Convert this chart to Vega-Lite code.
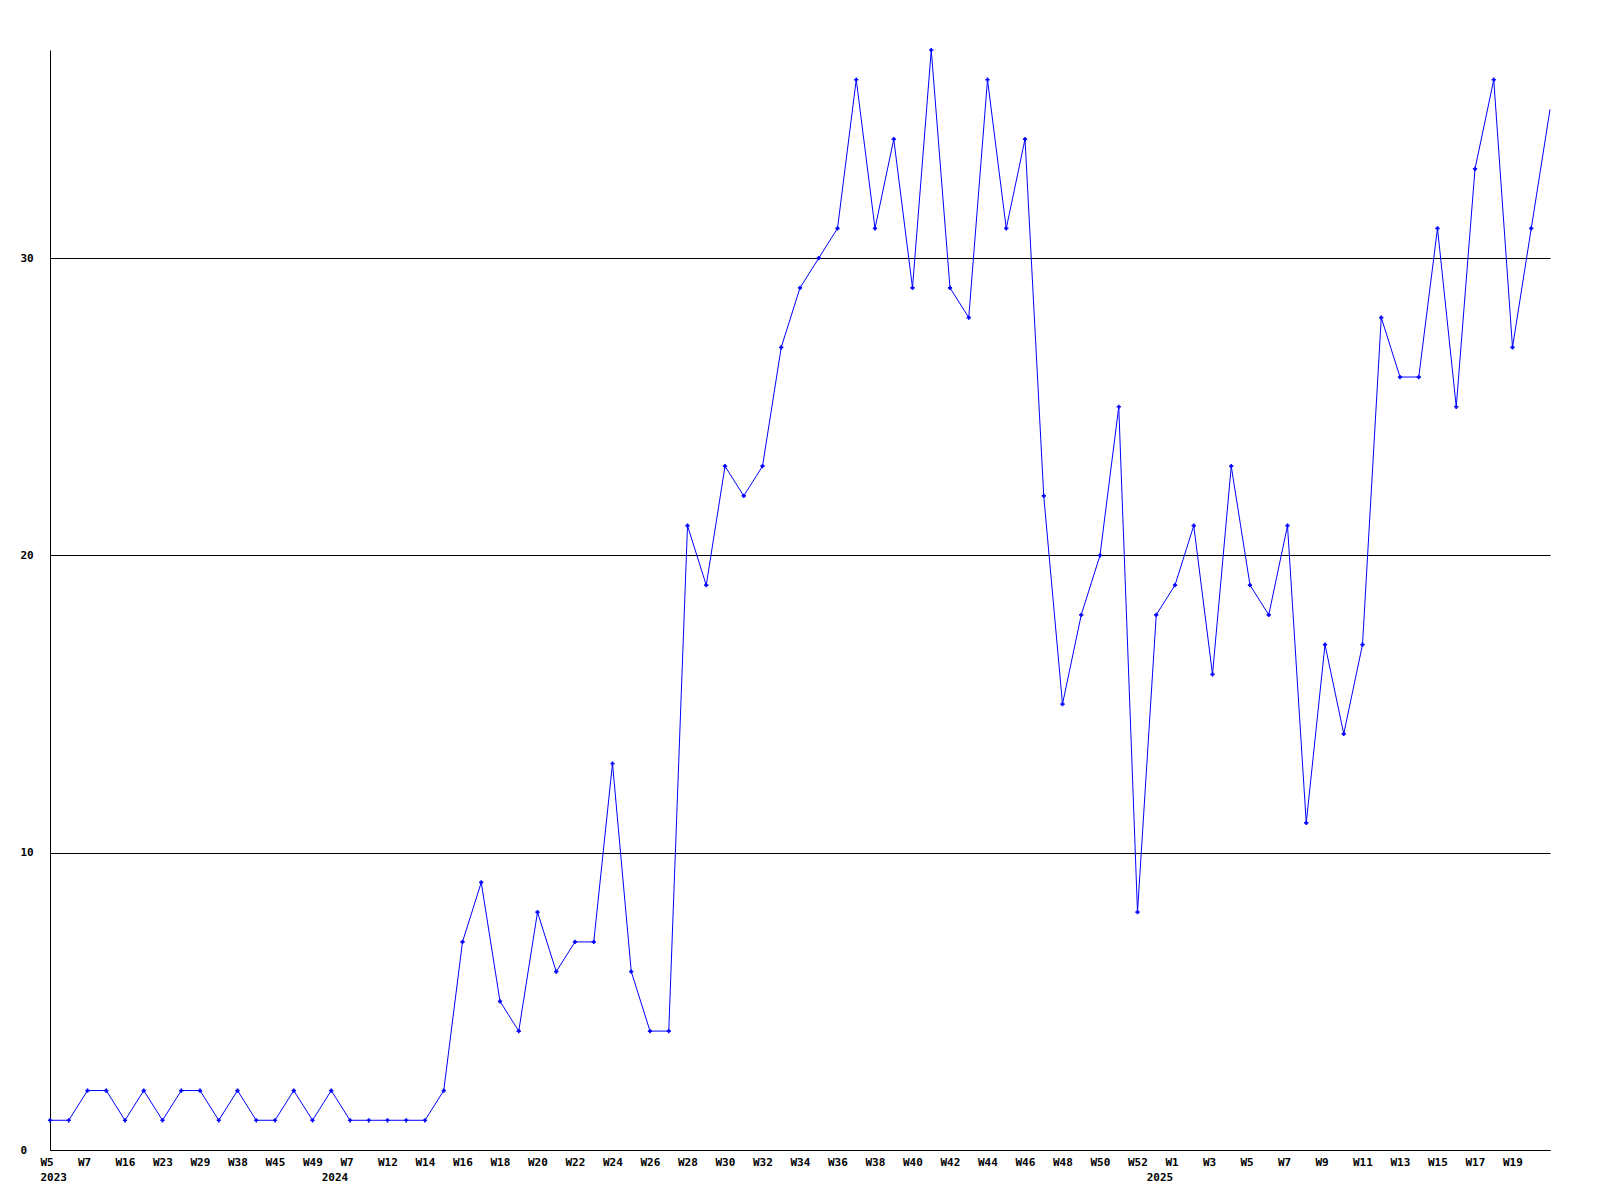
{
  "$schema": "https://vega.github.io/schema/vega-lite/v6.json",
  "width": 1500,
  "height": 1100,
  "autosize": {"type": "none"},
  "padding": {"left": 50, "top": 50, "right": 50, "bottom": 50},
  "background": "white",
  "config": {
    "view": {"stroke": null},
    "axis": {
      "labelFont": "DejaVu Sans Mono",
      "labelFontSize": 11,
      "labelFontWeight": "bold",
      "labelColor": "black",
      "domainColor": "black",
      "domainWidth": 1,
      "ticks": false,
      "title": null
    }
  },
  "data": {
    "values": [
      {"week": "2023-W05", "value": 1},
      {"week": "2023-W06", "value": 1},
      {"week": "2023-W07", "value": 2},
      {"week": "2023-W11", "value": 2},
      {"week": "2023-W16", "value": 1},
      {"week": "2023-W19", "value": 2},
      {"week": "2023-W23", "value": 1},
      {"week": "2023-W26", "value": 2},
      {"week": "2023-W29", "value": 2},
      {"week": "2023-W33", "value": 1},
      {"week": "2023-W38", "value": 2},
      {"week": "2023-W41", "value": 1},
      {"week": "2023-W45", "value": 1},
      {"week": "2023-W47", "value": 2},
      {"week": "2023-W49", "value": 1},
      {"week": "2024-W02", "value": 2},
      {"week": "2024-W07", "value": 1},
      {"week": "2024-W09", "value": 1},
      {"week": "2024-W12", "value": 1},
      {"week": "2024-W13", "value": 1},
      {"week": "2024-W14", "value": 1},
      {"week": "2024-W15", "value": 2},
      {"week": "2024-W16", "value": 7},
      {"week": "2024-W17", "value": 9},
      {"week": "2024-W18", "value": 5},
      {"week": "2024-W19", "value": 4},
      {"week": "2024-W20", "value": 8},
      {"week": "2024-W21", "value": 6},
      {"week": "2024-W22", "value": 7},
      {"week": "2024-W23", "value": 7},
      {"week": "2024-W24", "value": 13},
      {"week": "2024-W25", "value": 6},
      {"week": "2024-W26", "value": 4},
      {"week": "2024-W27", "value": 4},
      {"week": "2024-W28", "value": 21},
      {"week": "2024-W29", "value": 19},
      {"week": "2024-W30", "value": 23},
      {"week": "2024-W31", "value": 22},
      {"week": "2024-W32", "value": 23},
      {"week": "2024-W33", "value": 27},
      {"week": "2024-W34", "value": 29},
      {"week": "2024-W35", "value": 30},
      {"week": "2024-W36", "value": 31},
      {"week": "2024-W37", "value": 36},
      {"week": "2024-W38", "value": 31},
      {"week": "2024-W39", "value": 34},
      {"week": "2024-W40", "value": 29},
      {"week": "2024-W41", "value": 37},
      {"week": "2024-W42", "value": 29},
      {"week": "2024-W43", "value": 28},
      {"week": "2024-W44", "value": 36},
      {"week": "2024-W45", "value": 31},
      {"week": "2024-W46", "value": 34},
      {"week": "2024-W47", "value": 22},
      {"week": "2024-W48", "value": 15},
      {"week": "2024-W49", "value": 18},
      {"week": "2024-W50", "value": 20},
      {"week": "2024-W51", "value": 25},
      {"week": "2024-W52", "value": 8},
      {"week": "2025-W00", "value": 18},
      {"week": "2025-W01", "value": 19},
      {"week": "2025-W02", "value": 21},
      {"week": "2025-W03", "value": 16},
      {"week": "2025-W04", "value": 23},
      {"week": "2025-W05", "value": 19},
      {"week": "2025-W06", "value": 18},
      {"week": "2025-W07", "value": 21},
      {"week": "2025-W08", "value": 11},
      {"week": "2025-W09", "value": 17},
      {"week": "2025-W10", "value": 14},
      {"week": "2025-W11", "value": 17},
      {"week": "2025-W12", "value": 28},
      {"week": "2025-W13", "value": 26},
      {"week": "2025-W14", "value": 26},
      {"week": "2025-W15", "value": 31},
      {"week": "2025-W16", "value": 25},
      {"week": "2025-W17", "value": 33},
      {"week": "2025-W18", "value": 36},
      {"week": "2025-W19", "value": 27},
      {"week": "2025-W20", "value": 31},
      {"week": "2025-W21", "value": 35}
    ]
  },
  "encoding": {
    "x": {
      "field": "week",
      "type": "ordinal",
      "sort": null,
      "scale": {"type": "point", "padding": 0},
      "axis": {
        "values": ["2023-W05", "2023-W07", "2023-W16", "2023-W23", "2023-W29", "2023-W38", "2023-W45", "2023-W49",
                   "2024-W02", "2024-W07", "2024-W12", "2024-W14", "2024-W16", "2024-W18", "2024-W20", "2024-W22",
                   "2024-W24", "2024-W26", "2024-W28", "2024-W30", "2024-W32", "2024-W34", "2024-W36", "2024-W38",
                   "2024-W40", "2024-W42", "2024-W44", "2024-W46", "2024-W48", "2024-W50", "2024-W52",
                   "2025-W00", "2025-W01", "2025-W03", "2025-W05", "2025-W07", "2025-W09", "2025-W11", "2025-W13",
                   "2025-W15", "2025-W17", "2025-W19"],
        "labelExpr": "datum.value == '2024-W02' || datum.value == '2025-W00' ? [' ', slice(datum.value, 0, 4)] : datum.value == '2023-W05' ? ['W5', '2023'] : 'W' + toNumber(slice(datum.value, 6))",
        "labelAlign": "left",
        "labelOffset": -10,
        "labelBaseline": "top",
        "labelPadding": 6,
        "labelLineHeight": 15,
        "labelAngle": 0,
        "labelOverlap": false,
        "labelBound": false,
        "grid": false
      }
    },
    "y": {
      "field": "value",
      "type": "quantitative",
      "scale": {"domain": [0, 37], "nice": false, "zero": true},
      "axis": {
        "values": [0, 10, 20, 30],
        "grid": true,
        "gridColor": "black",
        "gridOpacity": 1,
        "gridWidth": 1,
        "labelAlign": "left",
        "labelBaseline": "middle",
        "labelPadding": 30
      }
    }
  },
  "layer": [
    {
      "mark": {"type": "line", "color": "#0000ff", "strokeWidth": 1}
    },
    {
      "transform": [{"filter": "datum.week != '2025-W21'"}],
      "mark": {"type": "point", "shape": "cross", "size": 18, "filled": true, "color": "#0000ff", "opacity": 1}
    }
  ]
}
